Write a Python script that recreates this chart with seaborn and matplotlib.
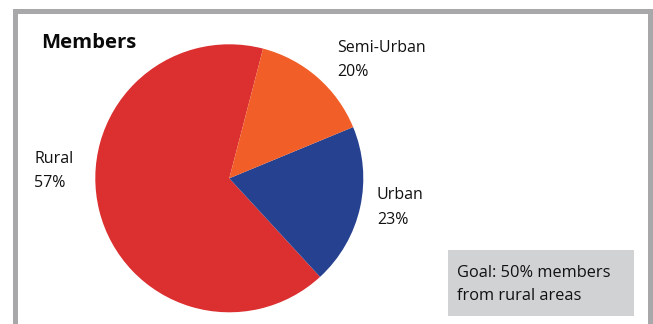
import matplotlib
matplotlib.use("Agg")
import matplotlib.pyplot as plt
from matplotlib.patches import Rectangle
import seaborn as sns

# ---- data ----
categories = ["Rural", "Urban", "Semi-Urban"]
slice_shares = [65.9, 19.4, 14.7]          # wedge sizes as drawn
printed_pcts = ["57%", "23%", "20%"]        # percentages printed on the chart
slice_colors = ["#DC2F30", "#26418F", "#F15E28"]
title_text = "Members"
goal_text = "Goal: 50% members\nfrom rural areas"

sns.set_theme(style="white")
plt.rcParams["font.family"] = ["Open Sans", "DejaVu Sans"]

W, H = 653, 324
fig = plt.figure(figsize=(W / 100, H / 100), dpi=100)
fig.patch.set_facecolor("white")


def fx(x):
    return x / W


def fy(y):
    return 1 - y / H


# outer gray frame (open at the bottom)
fig.patches.append(Rectangle((fx(14.8), fy(345)), fx(650.2) - fx(14.8), fy(10.8) - fy(345),
                             transform=fig.transFigure, fill=False,
                             edgecolor="#A8A8AB", linewidth=3.6, zorder=0))

# pie axes
cx, cy, r = 229.3, 178.3, 134
ax = fig.add_axes([fx(cx - r), fy(cy + r), 2 * r / W, 2 * r / H])
ax.pie(slice_shares, colors=slice_colors, startangle=75.4, counterclock=True,
       radius=1, wedgeprops=dict(linewidth=0))
ax.set_xlim(-1, 1)
ax.set_ylim(-1, 1)
ax.set_aspect("auto")
ax.axis("off")

# title
fig.text(fx(41), fy(43), title_text, fontsize=14.6, fontweight="bold",
         ha="left", va="center", color="#0A0A0A")

# labels
label_pos = {"Rural": (34, 159, 183), "Urban": (377, 195, 220), "Semi-Urban": (337, 48, 72)}
for cat, pct in zip(categories, printed_pcts):
    x, y1, y2 = label_pos[cat]
    fig.text(fx(x), fy(y1), cat, fontsize=11.5, ha="left", va="center", color="#111111")
    fig.text(fx(x), fy(y2), pct, fontsize=11.5, ha="left", va="center", color="#111111")

# goal box
fig.patches.append(Rectangle((fx(448), fy(316)), fx(634) - fx(448), fy(250) - fy(316),
                             transform=fig.transFigure, facecolor="#D1D2D4",
                             edgecolor="none", zorder=1))
fig.text(fx(457), fy(284.5), goal_text, fontsize=11.8, ha="left", va="center",
         linespacing=1.55, color="#111111", zorder=2)

fig.savefig("out.png", dpi=100)
